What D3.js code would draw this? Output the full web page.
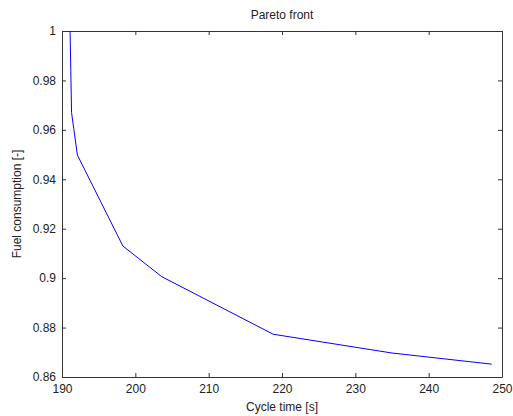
<!DOCTYPE html>
<html lang="en">
  <head>
    <meta charset="UTF-8" />
    <title>Pareto front</title>
    <script src="https://d3js.org/d3.v7.min.js"></script>
    <style>
      body {
        margin: 0;
        background: #fff;
      }
      text {
        font: 12px "Liberation Sans", Arial, sans-serif;
        fill: #222;
      }
      .axis path,
      .axis line {
        stroke: #333;
      }
    </style>
  </head>
  <body>
    <svg width="513" height="416"></svg>
    <script>
      // cycle time [s] vs fuel consumption [-]
      const cycleTime = [191.1, 191.2, 191.3, 191.6, 192.1, 198.3, 203.6, 218.8, 235.0, 248.6];
      const fuel = [1.0, 0.984, 0.967, 0.9606, 0.9498, 0.913, 0.9006, 0.8773, 0.8697, 0.8652];
      const xTicks = [190, 200, 210, 220, 230, 240, 250];
      const yTicks = [0.86, 0.88, 0.9, 0.92, 0.94, 0.96, 0.98, 1];

      const width = 513;
      const height = 416;
      const margin = { top: 31, right: 11, bottom: 39, left: 62 };
      const w = width - margin.left - margin.right;
      const h = height - margin.top - margin.bottom;

      const svg = d3.select("svg");
      const g = svg
        .append("g")
        .attr("transform", `translate(${margin.left},${margin.top})`);

      const x = d3.scaleLinear().domain([190, 250]).range([0, w]);
      const y = d3.scaleLinear().domain([0.86, 1]).range([h, 0]);

      // box with inward ticks on all sides
      g.append("g")
        .attr("class", "axis")
        .attr("transform", `translate(0,${h})`)
        .call(d3.axisBottom(x).tickValues(xTicks).tickSizeInner(-4).tickSizeOuter(0).tickPadding(7))
        .call((s) => s.selectAll("text").attr("dy", "0.71em"));
      g.append("g")
        .attr("class", "axis")
        .call(d3.axisTop(x).tickValues(xTicks).tickSizeInner(-4).tickSizeOuter(0).tickFormat(""));
      g.append("g")
        .attr("class", "axis")
        .call(d3.axisLeft(y).tickValues(yTicks).tickSizeInner(-4).tickSizeOuter(0).tickPadding(6).tickFormat(d3.format("")));
      g.append("g")
        .attr("class", "axis")
        .attr("transform", `translate(${w},0)`)
        .call(d3.axisRight(y).tickValues(yTicks).tickSizeInner(-4).tickSizeOuter(0).tickFormat(""));

      svg.selectAll(".axis .domain").attr("stroke", "#333");

      const line = d3
        .line()
        .x((d, i) => x(cycleTime[i]))
        .y((d) => y(d));

      g.append("path")
        .datum(fuel)
        .attr("fill", "none")
        .attr("stroke", "#0000ff")
        .attr("stroke-width", 1)
        .attr("d", line);

      svg
        .append("text")
        .attr("x", margin.left + w / 2)
        .attr("y", 19)
        .attr("text-anchor", "middle")
        .text("Pareto front");

      svg
        .append("text")
        .attr("x", margin.left + w / 2)
        .attr("y", 411)
        .attr("text-anchor", "middle")
        .text("Cycle time [s]");

      svg
        .append("text")
        .attr("transform", `translate(21,${margin.top + h / 2}) rotate(-90)`)
        .attr("text-anchor", "middle")
        .text("Fuel consumption [-]");
    </script>
  </body>
</html>
